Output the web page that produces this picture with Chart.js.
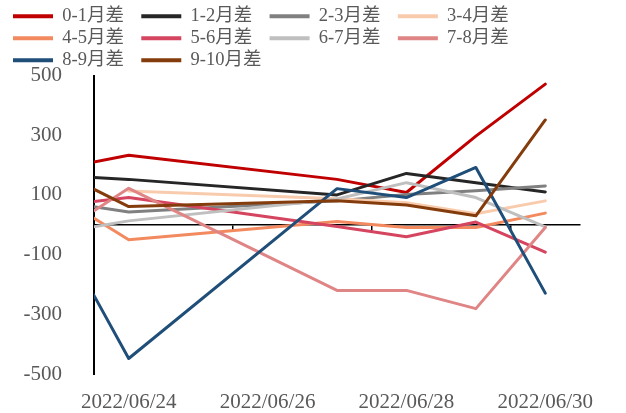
<!DOCTYPE html>
<html>
<head>
<meta charset="utf-8">
<script src="https://cdn.jsdelivr.net/npm/chart.js@4.4.1/dist/chart.umd.min.js"></script>
<style>
  html, body { margin: 0; padding: 0; background: #ffffff; }
  #wrap { width: 626px; height: 413px; }
</style>
</head>
<body>
<div id="wrap"><canvas id="c" width="626" height="413"></canvas></div>
<script>
// ---- data ----
const dates = ['2022/06/23', '2022/06/24', '2022/06/27', '2022/06/28', '2022/06/29', '2022/06/30'];
const seriesNames = ['0-1月差', '1-2月差', '2-3月差', '3-4月差', '4-5月差', '5-6月差', '6-7月差', '7-8月差', '8-9月差', '9-10月差'];
const s01  = [187, 233, 152, 108, 297, 471];
const s12  = [164, 152, 100, 172, 141, 110];
const s23  = [77, 43, 80, 101, 114, 130];
const s34  = [null, 113, 87, 74, 37, 80];
const s45  = [94, -50, 11, -9, -9, 39];
const s56  = [65, 91, -6, -40, 9, -92];
const s67  = [-27, 13, 86, 141, 91, -7];
const s78  = [-28, 122, -220, -220, -281, -9];
const s89  = [-26, -448, 121, 91, 192, -229];
const s910 = [177, 61, 80, 66, 30, 351];
const seriesValues = [s01, s12, s23, s34, s45, s56, s67, s78, s89, s910];
const seriesColors = ['#C00000', '#262626', '#808080', '#F8CBAD', '#F38A5F', '#D5455F', '#BFBFBF', '#E08585', '#1F4E79', '#843C0C'];
const xTickLabels = ['2022/06/24', '2022/06/26', '2022/06/28', '2022/06/30'];
const yTickValues = [-500, -300, -100, 100, 300, 500];
const axisFirstDate = '2022/06/24';
const axisLastDate = '2022/06/30';

// ---- helpers ----
function dayIndex(s) {
  const p = s.split('/').map(Number);
  const b = dates[0].split('/').map(Number);
  return Math.round((Date.UTC(p[0], p[1] - 1, p[2]) - Date.UTC(b[0], b[1] - 1, b[2])) / 864e5);
}
const xMin = dayIndex(axisFirstDate) - 0.5;
const xMax = dayIndex(axisLastDate) + 0.5;
const xTickVals = xTickLabels.map(dayIndex);
const xMarkVals = xTickVals.slice(1).map(v => v - 0.5);

const textColor = '#595959';
const serif = "'Liberation Serif', 'Times New Roman', 'Noto Sans CJK SC', serif";

const datasets = seriesNames.map((name, i) => ({
  label: name,
  data: dates.map((d, j) => ({ x: dayIndex(d), y: seriesValues[i][j] })),
  borderColor: seriesColors[i],
  backgroundColor: seriesColors[i],
  borderWidth: 3,
  pointRadius: 0,
  pointHoverRadius: 0,
  tension: 0,
  fill: false,
  spanGaps: true,
  borderCapStyle: 'round',
  borderJoinStyle: 'round',
  order: seriesNames.length - i
}));

const legendTrim = {
  id: 'legendTrim',
  beforeLayout(chart) {
    const l = chart.legend;
    if (l && !l._trimmed) {
      const f = l.fit;
      l.fit = function () { f.call(this); this.height -= 4; };
      l._trimmed = true;
    }
  }
};

new Chart(document.getElementById('c'), {
  type: 'line',
  data: { datasets },
  plugins: [legendTrim],
  options: {
    responsive: false,
    animation: false,
    events: [],
    layout: { padding: { left: 9.5, right: 46, top: 3.5, bottom: 0 } },
    plugins: {
      tooltip: { enabled: false },
      legend: {
        display: true,
        position: 'top',
        align: 'start',
        reverse: true,
        labels: {
          boxWidth: 40,
          boxHeight: 4,
          padding: 3.5,
          color: textColor,
          font: { family: serif, size: 18.5 },
          generateLabels(chart) {
            const items = Chart.defaults.plugins.legend.labels.generateLabels(chart);
            items.forEach(it => { it.lineWidth = 0; it.text = it.text + '   '; });
            return items;
          }
        }
      }
    },
    scales: {
      x: {
        type: 'linear',
        position: 'bottom',
        min: xMin,
        max: xMax,
        grid: { display: false },
        border: { display: false },
        afterBuildTicks(scale) { scale.ticks = xTickVals.map(v => ({ value: v })); },
        afterFit(scale) { scale.height = 39; },
        ticks: {
          padding: 8,
          maxRotation: 0,
          autoSkip: false,
          color: textColor,
          font: { family: serif, size: 21 },
          callback(v) { const k = xTickVals.indexOf(v); return k >= 0 ? xTickLabels[k] : ''; }
        }
      },
      xZero: {
        type: 'linear',
        position: { y: 0 },
        min: xMin,
        max: xMax,
        grid: { display: true, drawOnChartArea: false, drawTicks: true, tickLength: 6, color: '#000000', lineWidth: 1.5 },
        border: { display: true, color: '#000000', width: 1.5 },
        afterBuildTicks(scale) { scale.ticks = xMarkVals.map(v => ({ value: v })); },
        ticks: { display: false }
      },
      y: {
        type: 'linear',
        position: 'left',
        min: -500,
        max: 500,
        grid: { display: false },
        border: { display: true, color: '#000000', width: 2 },
        afterBuildTicks(scale) { scale.ticks = yTickValues.map(v => ({ value: v })); },
        afterFit(scale) { scale.width = 84.5; },
        ticks: {
          padding: 24,
          color: textColor,
          font: { family: serif, size: 21 }
        }
      }
    }
  }
});
</script>
</body>
</html>
